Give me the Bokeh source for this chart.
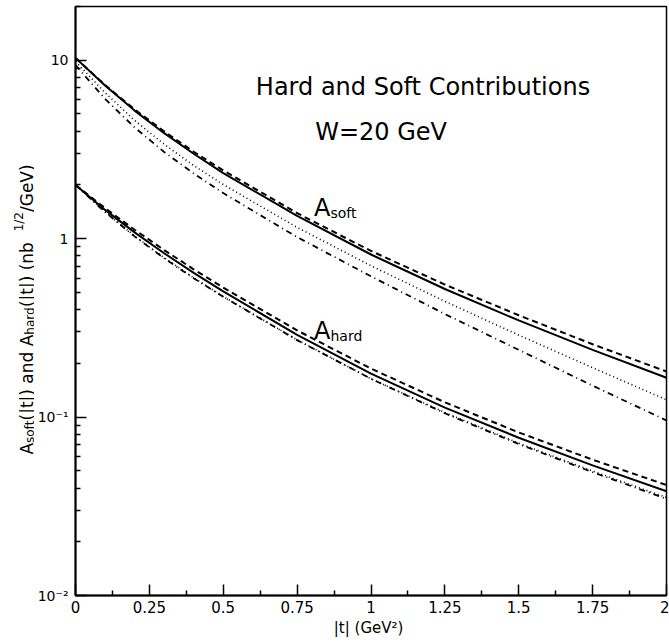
import math
from bokeh.plotting import figure
from bokeh.layouts import row
from bokeh.models import FixedTicker, Label, Range1d
from bokeh.core.properties import value
from bokeh.embed import file_html
from bokeh.resources import INLINE

# |t| grid (GeV^2)
t = [0, 0.1, 0.2, 0.3, 0.4, 0.5, 0.75, 1.0, 1.25, 1.5, 1.75, 2.0]
# A_soft curves
soft_solid = [10.3, 7.21, 5.22, 3.90, 2.99, 2.33, 1.34, 0.815, 0.522, 0.348, 0.238, 0.166]
soft_dashed = [10.3, 7.26, 5.30, 3.99, 3.07, 2.41, 1.39, 0.853, 0.553, 0.372, 0.256, 0.180]
soft_dotted = [9.84, 6.58, 4.60, 3.38, 2.57, 2.01, 1.156, 0.705, 0.445, 0.288, 0.189, 0.125]
soft_dashdot = [9.40, 6.07, 4.20, 3.06, 2.32, 1.80, 1.02, 0.615, 0.378, 0.238, 0.150, 0.0957]
# A_hard curves
hard_solid = [2.0, 1.449, 1.084, 0.828, 0.643, 0.506, 0.289, 0.175, 0.113, 0.0766, 0.0536, 0.0384]
hard_dashed = [2.0, 1.483, 1.122, 0.863, 0.673, 0.532, 0.306, 0.187, 0.121, 0.082, 0.0577, 0.0416]
hard_dotted = [2.0, 1.416, 1.035, 0.782, 0.604, 0.474, 0.271, 0.164, 0.106, 0.0714, 0.0498, 0.0354]
hard_dashdot = [2.0, 1.409, 1.030, 0.776, 0.600, 0.472, 0.270, 0.164, 0.105, 0.0706, 0.0491, 0.0348]

x_ticks = [0, 0.25, 0.5, 0.75, 1.0, 1.25, 1.5, 1.75, 2.0]
x_tick_labels = ["0", "0.25", "0.5", "0.75", "1", "1.25", "1.5", "1.75", "2"]
y_ticks = [0.01, 0.1, 1, 10]
y_tick_labels = ["10\u207b\u00b2", "10\u207b\u00b9", "1", "10"]

FONT = "DejaVu Sans"
LEFT_W = 34
TOP, BOTTOM = 6, 47

p = figure(width=669 - LEFT_W, height=642, x_range=(0, 2), y_range=(0.01, 20),
           y_axis_type="log", output_backend="svg", toolbar_location=None,
           min_border_left=74 - LEFT_W, min_border_right=3, min_border_top=TOP,
           min_border_bottom=BOTTOM)
p.background_fill_color = "white"
p.border_fill_color = "white"
p.outline_line_color = "black"
p.outline_line_width = 1.5
p.xgrid.visible = False
p.ygrid.visible = False

x_minor = [(x_ticks[i] + x_ticks[i + 1]) / 2 for i in range(len(x_ticks) - 1)]
p.xaxis.ticker = FixedTicker(ticks=x_ticks, minor_ticks=x_minor)
p.xaxis.major_label_overrides = {k: v for k, v in zip(x_ticks, x_tick_labels)}

y_minor = []
for d in [0.01, 0.1, 1, 10]:
    for m in range(2, 10):
        if d * m <= 20:
            y_minor.append(d * m)
p.yaxis.ticker = FixedTicker(ticks=y_ticks, minor_ticks=y_minor)
p.yaxis.major_label_overrides = {k: v for k, v in zip(y_ticks, y_tick_labels)}

for ax in (p.xaxis[0], p.yaxis[0]):
    ax.axis_line_width = 2
    ax.axis_line_color = "black"
    ax.major_tick_in = 11
    ax.major_tick_out = 0
    ax.minor_tick_in = 5
    ax.minor_tick_out = 0
    ax.major_tick_line_width = 1.5
    ax.minor_tick_line_width = 1.5
    ax.major_label_text_font = FONT
    ax.major_label_text_color = "black"

p.xaxis.major_label_text_font_size = "15px"
p.xaxis.major_label_standoff = 5
p.xaxis.axis_label = "|t|  (GeV\u00b2)"
p.xaxis.axis_label_text_font = FONT
p.xaxis.axis_label_text_font_size = "15px"
p.xaxis.axis_label_text_font_style = "normal"
p.xaxis.axis_label_text_color = "black"
p.xaxis.axis_label_standoff = 3
p.yaxis.major_label_text_font_size = "14px"
p.yaxis.major_label_standoff = 7

styles = [("solid", 2.0), ("6 4", 2.0), ("1 3", 1.6), ("6 4 1 4", 1.8)]
for series in ([soft_solid, soft_dashed, soft_dotted, soft_dashdot],
               [hard_solid, hard_dashed, hard_dotted, hard_dashdot]):
    for ys, (dash, w) in zip(series, styles):
        p.line(t, ys, line_color="black", line_width=w, line_dash=dash)

# Titles inside the plot
p.add_layout(Label(x=1.176, y=7.05, text="Hard and Soft Contributions",
                   text_font=FONT, text_font_size="24px", text_align="center",
                   text_baseline="alphabetic", text_color="black"))
p.add_layout(Label(x=1.034, y=3.94, text="W=20 GeV",
                   text_font=FONT, text_font_size="24px", text_align="center",
                   text_baseline="alphabetic", text_color="black"))

# Curve labels
for yv, sub in [(1.49, "soft"), (0.304, "hard")]:
    p.add_layout(Label(x=0.807, y=yv, text="A", text_font=FONT, text_color="black",
                       text_font_size="24px", text_baseline="alphabetic"))
    p.add_layout(Label(x=0.807, y=yv, x_offset=16.5, y_offset=-5, text=sub,
                       text_font=FONT, text_font_size="14px", text_color="black",
                       text_baseline="alphabetic"))

# Left strip carrying the composite rotated y-axis label.
# Its frame is aligned with the main frame; y data = 642 - screen y.
q = figure(width=LEFT_W, height=642, x_range=Range1d(0, LEFT_W),
           y_range=Range1d(BOTTOM, 642 - TOP),
           output_backend="svg", toolbar_location=None, min_border_left=0,
           min_border_right=0, min_border_top=TOP, min_border_bottom=BOTTOM,
           x_axis_location=None, y_axis_location=None)
q.outline_line_color = None
q.background_fill_color = "white"
q.border_fill_color = "white"
q.xgrid.visible = False
q.ygrid.visible = False

W = {"A": .684, "s": .521, "o": .612, "f": .352, "t": .392, "(": .390,
     "|": .337, ")": .390, " ": .318, "a": .613, "n": .634, "d": .635,
     "h": .634, "r": .411, "b": .635, "1": .636, "/": .337, "2": .636,
     "G": .775, "e": .615, "V": .684}
pieces = [("A", 17, 0), ("soft", 12, 3), ("(|t|) and A", 17, 0), ("hard", 12, 3),
          ("(|t|)   (nb", 17, 0), ("1/2", 12, -8), ("/GeV)", 17, 0)]
widths = [sum(W.get(c, .6) for c in s) * fs for s, fs, _ in pieces]
center_y = 642 - 309
base_x = 26
pos = center_y - sum(widths) / 2
for (s, fs, shift), w in zip(pieces, widths):
    q.text(x=[base_x + shift], y=[pos], text=[s], angle=math.pi / 2,
           text_font=value(FONT), text_font_size=f"{fs}px",
           text_baseline="alphabetic", text_align="left", text_color="black")
    pos += w

layout = row(q, p)
open("out.html", "w").write(file_html(layout, INLINE))
